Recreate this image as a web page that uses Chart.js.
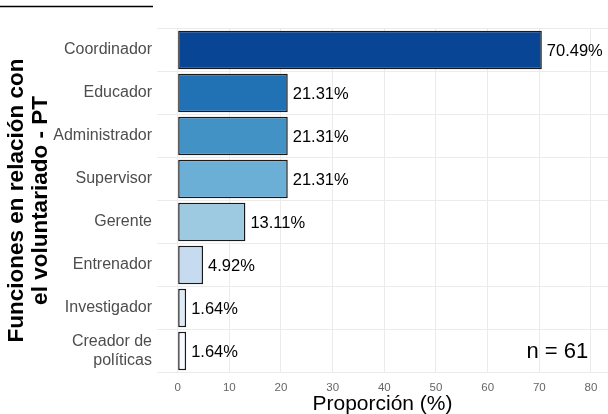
<!DOCTYPE html>
<html>
<head>
<meta charset="utf-8">
<script src="https://cdn.jsdelivr.net/npm/chart.js@4"></script>
<style>
  html, body { margin: 0; padding: 0; background: #fff; overflow: hidden; }
  #wrap { width: 608px; height: 414px; }
</style>
</head>
<body>
<div id="wrap"><canvas id="chart"></canvas></div>
<script>
const categories = ['Coordinador', 'Educador', 'Administrador', 'Supervisor', 'Gerente', 'Entrenador', 'Investigador', ['Creador de', 'políticas']];
const proportions = [70.49, 21.31, 21.31, 21.31, 13.11, 4.92, 1.64, 1.64];
const barColors = ['#084594', '#2171b5', '#4292c6', '#6baed6', '#9ecae1', '#c6dbef', '#deebf7', '#f7fbff'];
const xTicks = [0, 10, 20, 30, 40, 50, 60, 70, 80];
const sampleSize = 61;

const font = '"Liberation Sans", Arial, sans-serif';

const extras = {
  id: 'extras',
  afterDatasetsDraw(chart) {
    const ctx = chart.ctx;
    const x = chart.scales.x, y = chart.scales.y;
    ctx.save();
    // value labels at bar ends
    ctx.fillStyle = '#000';
    ctx.font = '16.5px ' + font;
    ctx.textAlign = 'left';
    ctx.textBaseline = 'middle';
    proportions.forEach((v, i) => {
      ctx.fillText(v.toFixed(2) + '%', x.getPixelForValue(v) + 5, y.getPixelForValue(i) + 1);
    });
    // sample size note
    ctx.font = '22px ' + font;
    ctx.textAlign = 'center';
    ctx.fillText('n = ' + sampleSize, x.getPixelForValue(73.5), y.getPixelForValue(categories.length - 1) + 1);
    // short rule at top left
    ctx.strokeStyle = '#000';
    ctx.lineWidth = 1.3;
    ctx.beginPath();
    ctx.moveTo(0, 6.5);
    ctx.lineTo(153, 6.5);
    ctx.stroke();
    ctx.restore();
  }
};

new Chart(document.getElementById('chart'), {
  type: 'bar',
  data: {
    labels: categories,
    datasets: [{
      data: proportions,
      backgroundColor: barColors,
      borderColor: '#1a1a1a',
      borderWidth: 1.5,
      borderSkipped: false,
      barPercentage: 0.9,
      categoryPercentage: 1.0
    }]
  },
  options: {
    indexAxis: 'y',
    responsive: true,
    maintainAspectRatio: false,
    animation: false,
    layout: { padding: { top: 28.5, right: 0, left: 0, bottom: 0 } },
    plugins: {
      legend: { display: false },
      tooltip: { enabled: false }
    },
    scales: {
      x: {
        type: 'linear',
        min: -4,
        max: 83.3,
        afterBuildTicks: (s) => { s.ticks = xTicks.map(v => ({ value: v })); },
        afterFit: (s) => { s.height = 41.5; },
        grid: { color: '#ebebeb', lineWidth: 1, drawTicks: false },
        border: { display: false },
        ticks: { color: '#666', font: { family: font, size: 11.5 }, padding: 8 },
        title: {
          display: true,
          text: 'Proporción (%)',
          color: '#000',
          font: { family: font, size: 21 },
          padding: { top: 0, bottom: -3 }
        }
      },
      y: {
        afterFit: (s) => { s.width = 157; },
        grid: { color: '#ebebeb', lineWidth: 1, drawTicks: false },
        border: { display: false },
        ticks: { color: '#4d4d4d', font: { family: font, size: 16 }, padding: 5 },
        title: {
          display: true,
          text: ['Funciones en relación con', 'el voluntariado - PT'],
          color: '#000',
          font: { family: font, size: 22.5, weight: 'bold', lineHeight: 1.1 },
          padding: { top: 4, bottom: 0 }
        }
      }
    }
  },
  plugins: [extras]
});
</script>
</body>
</html>
